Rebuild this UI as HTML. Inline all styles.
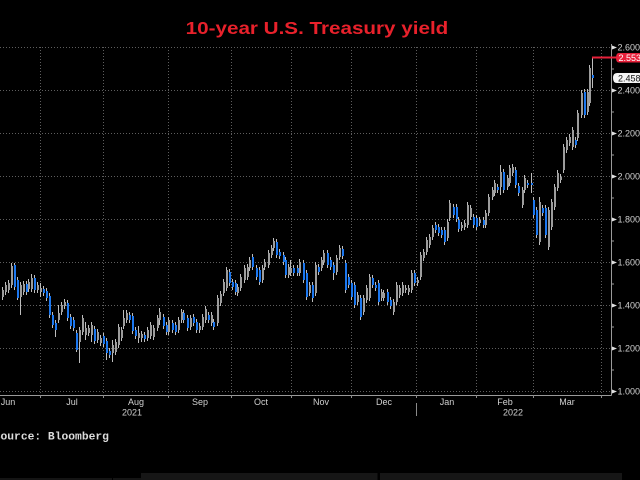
<!DOCTYPE html>
<html><head><meta charset="utf-8">
<style>
html,body{margin:0;padding:0;background:#000;}
svg{display:block;}
.g{fill:#9c9c9c;}
.b{fill:#1c77ee;}
.ax{font-family:"Liberation Sans",sans-serif;font-size:9px;fill:#d0d0d0;}
</style></head><body>
<svg width="640" height="480" viewBox="0 0 640 480" xmlns="http://www.w3.org/2000/svg">
<rect width="640" height="480" fill="#000"/>
<text x="185.7" y="34" font-family="Liberation Sans, sans-serif" font-weight="bold" font-size="17.2" fill="#e8212b" textLength="262.6" lengthAdjust="spacingAndGlyphs">10-year U.S. Treasury yield</text>
<g stroke="#5e5e5e" stroke-width="1" stroke-dasharray="1,2" fill="none">
<path d="M0 47.5H611M0 90.5H611M0 133.5H611M0 176.5H611M0 219.5H611M0 262.5H611M0 305.5H611M0 348.5H611M0 391.5H611"/>
<path d="M40.5 47V395M103.5 47V395M168.5 47V395M231.5 47V395M291.5 47V395M351.5 47V395M416.5 47V395M476.5 47V395M533.5 47V395M601.5 47V395"/>
</g>
<path d="M0 395.5H611.5M611.5 44V395.5" stroke="#9a9a9a" stroke-width="1" fill="none"/>
<path d="M40.5 395V398M103.5 395V398M168.5 395V398M231.5 395V398M291.5 395V398M351.5 395V398M416.5 395V398M476.5 395V398M533.5 395V398M601.5 395V398M416.5 403V416" stroke="#8a8a8a" stroke-width="1"/>
<path d="M611 69H614M611 112H614M611 155H614M611 198H614M611 241H614M611 284H614M611 327H614M611 370H614" stroke="#9a9a9a" stroke-width="1"/>
<g fill="#e0e0e0">
<path d="M612 45.5L617 47.5L612 49.5Z"/><path d="M612 88.5L617 90.5L612 92.5Z"/><path d="M612 131.5L617 133.5L612 135.5Z"/><path d="M612 174.5L617 176.5L612 178.5Z"/><path d="M612 217.5L617 219.5L612 221.5Z"/><path d="M612 260.5L617 262.5L612 264.5Z"/><path d="M612 303.5L617 305.5L612 307.5Z"/><path d="M612 346.5L617 348.5L612 350.5Z"/><path d="M612 389.5L617 391.5L612 393.5Z"/>
</g>
<g class="ax">
<text x="617.5" y="50.5">2.6000</text>
<text x="617.5" y="93.5">2.4000</text>
<text x="617.5" y="136.5">2.2000</text>
<text x="617.5" y="179.5">2.0000</text>
<text x="617.5" y="222.5">1.8000</text>
<text x="617.5" y="265.5">1.6000</text>
<text x="617.5" y="308.5">1.4000</text>
<text x="617.5" y="351.5">1.2000</text>
<text x="617.5" y="394.5">1.0000</text>
</g>
<g class="ax" text-anchor="middle">
<text x="8" y="405">Jun</text><text x="72" y="405">Jul</text><text x="136" y="405">Aug</text><text x="200" y="405">Sep</text><text x="261" y="405">Oct</text><text x="321" y="405">Nov</text><text x="384" y="405">Dec</text><text x="447" y="405">Jan</text><text x="505" y="405">Feb</text><text x="567" y="405">Mar</text>
<text x="132" y="415.5">2021</text><text x="513" y="415.5">2022</text>
</g>
<!-- wicks -->
<path stroke="#bdbdbd" stroke-width="1" fill="none" d="M2.5 287V300M5.5 282V295M8.5 280V293M11.5 263V288M14.5 263V290M17.5 277V300M20.5 282V315M23.5 281V295M26.5 281V295M28.5 279V292M31.5 274V292M34.5 275V293M37.5 282V293M40.5 283V297M43.5 286V296M46.5 288V301M49.5 293V318M52.5 312V328M55.5 320V337M58.5 305V323M61.5 302V315M64.5 299V309M67.5 300V321M70.5 314V329M73.5 317V331M76.5 330V352M79.5 327V363M82.5 315V335M85.5 322V340M88.5 325V336M91.5 322V342M94.5 326V344M97.5 329V343M100.5 335V346M103.5 333V347M106.5 338V360M109.5 348V358M112.5 340V362M115.5 339V355M118.5 324V348M121.5 327V341M123.5 310V329M126.5 310V323M129.5 312V323M132.5 313V334M135.5 327V339M138.5 326V343M141.5 331V342M144.5 332V342M147.5 327V341M150.5 322V339M153.5 325V340M157.5 315V331M159.5 308V325M163.5 314V329M166.5 322V335M168.5 317V335M172.5 320V333M175.5 322V335M178.5 317V333M181.5 309V323M183.5 310V323M187.5 315V331M190.5 315V330M193.5 314V326M196.5 319V333M199.5 323V333M202.5 314V330M205.5 306V323M208.5 312V323M211.5 312V326M213.5 319V330M217.5 295V326M220.5 291V306M223.5 279V296M226.5 267V291M229.5 269V286M232.5 279V290M235.5 280V295M237.5 284V296M240.5 274V291M244.5 265V283M247.5 264V280M249.5 257V271M252.5 254V270M256.5 265V280M259.5 267V285M262.5 265V283M264.5 259V270M268.5 250V268M271.5 245V258M273.5 238V251M276.5 239V258M279.5 249V259M283.5 252V265M285.5 257V278M288.5 264V278M290.5 260V276M293.5 265V276M297.5 265V276M299.5 259V276M303.5 260V283M306.5 270V300M309.5 282V296M312.5 282V302M315.5 262V296M318.5 264V275M321.5 257V271M323.5 250V265M327.5 250V268M330.5 257V270M333.5 262V280M336.5 255V275M339.5 245V260M342.5 246V259M345.5 260V293M348.5 274V288M351.5 280V300M354.5 282V308M357.5 292V305M360.5 295V320M363.5 295V315M366.5 285V303M369.5 274V301M372.5 275V288M375.5 282V291M378.5 280V305M381.5 289V301M383.5 290V301M387.5 289V305M390.5 297V309M393.5 299V315M396.5 282V305M399.5 285V298M402.5 282V296M405.5 285V293M408.5 285V295M411.5 270V293M414.5 270V286M417.5 277V286M420.5 252V280M423.5 249V261M426.5 237V255M429.5 234V248M432.5 225V240M435.5 222V233M438.5 224V236M441.5 227V238M444.5 227V245M447.5 219V241M449.5 200V221M453.5 204V218M456.5 204V222M458.5 217V232M461.5 222V231M464.5 220V230M467.5 202V228M470.5 205V220M473.5 214V228M476.5 215V230M479.5 217V226M483.5 217V228M485.5 210V228M488.5 194V216M492.5 187V200M494.5 180V196M497.5 184V193M500.5 165V195M503.5 169V193M507.5 175V190M509.5 165V186M512.5 164V176M515.5 167V188M518.5 183V196M522.5 187V208M524.5 175V193M527.5 180V188M531.5 173V193M533.5 197V218M536.5 207V238M539.5 197V245M542.5 205V216M545.5 205V238M548.5 207V250M551.5 199V230M554.5 184V210M557.5 170V191M560.5 174V183M563.5 144V173M566.5 137V153M569.5 134V146M572.5 127V150M575.5 137V148M577.5 110V141M581.5 90V118M584.5 89V118M587.5 89V115M589.5 65V106M592.5 58V88"/>
<!-- grey bodies -->
<g class="g">
<rect x="2" y="290" width="2" height="7"/><rect x="5" y="285" width="2" height="7"/><rect x="8" y="283" width="2" height="7"/><rect x="11" y="266" width="2" height="19"/><rect x="20" y="285" width="2" height="12"/><rect x="23" y="284" width="2" height="8"/><rect x="28" y="282" width="2" height="7"/><rect x="31" y="278" width="2" height="11"/><rect x="37" y="285" width="2" height="5"/><rect x="40" y="288" width="2" height="4"/><rect x="58" y="313" width="2" height="7"/><rect x="61" y="305" width="2" height="7"/><rect x="64" y="302" width="2" height="4"/><rect x="79" y="330" width="2" height="12"/><rect x="82" y="318" width="2" height="14"/><rect x="85" y="328" width="2" height="7"/><rect x="88" y="328" width="2" height="5"/><rect x="91" y="325" width="2" height="10"/><rect x="97" y="332" width="2" height="8"/><rect x="100" y="338" width="2" height="5"/><rect x="112" y="345" width="2" height="8"/><rect x="115" y="342" width="2" height="10"/><rect x="118" y="327" width="2" height="18"/><rect x="121" y="330" width="2" height="8"/><rect x="123" y="318" width="2" height="8"/><rect x="126" y="313" width="2" height="7"/><rect x="138" y="333" width="2" height="5"/><rect x="141" y="334" width="2" height="4"/><rect x="147" y="330" width="2" height="8"/><rect x="150" y="325" width="2" height="11"/><rect x="153" y="328" width="2" height="9"/><rect x="157" y="318" width="2" height="10"/><rect x="159" y="312" width="2" height="8"/><rect x="168" y="320" width="2" height="12"/><rect x="178" y="320" width="2" height="10"/><rect x="181" y="312" width="2" height="8"/><rect x="190" y="318" width="2" height="9"/><rect x="199" y="326" width="2" height="4"/><rect x="202" y="317" width="2" height="10"/><rect x="205" y="309" width="2" height="11"/><rect x="211" y="315" width="2" height="8"/><rect x="217" y="298" width="2" height="25"/><rect x="220" y="294" width="2" height="9"/><rect x="223" y="282" width="2" height="11"/><rect x="226" y="270" width="2" height="18"/><rect x="237" y="287" width="2" height="6"/><rect x="240" y="277" width="2" height="11"/><rect x="244" y="268" width="2" height="12"/><rect x="247" y="267" width="2" height="10"/><rect x="249" y="260" width="2" height="8"/><rect x="262" y="268" width="2" height="12"/><rect x="264" y="262" width="2" height="5"/><rect x="268" y="253" width="2" height="12"/><rect x="271" y="248" width="2" height="7"/><rect x="273" y="241" width="2" height="7"/><rect x="288" y="267" width="2" height="8"/><rect x="290" y="268" width="2" height="5"/><rect x="299" y="262" width="2" height="11"/><rect x="309" y="285" width="2" height="8"/><rect x="315" y="265" width="2" height="28"/><rect x="321" y="260" width="2" height="8"/><rect x="323" y="253" width="2" height="9"/><rect x="336" y="258" width="2" height="14"/><rect x="339" y="248" width="2" height="9"/><rect x="357" y="295" width="2" height="7"/><rect x="363" y="298" width="2" height="14"/><rect x="366" y="288" width="2" height="12"/><rect x="369" y="277" width="2" height="21"/><rect x="381" y="292" width="2" height="6"/><rect x="383" y="293" width="2" height="5"/><rect x="393" y="302" width="2" height="10"/><rect x="396" y="285" width="2" height="17"/><rect x="399" y="288" width="2" height="7"/><rect x="402" y="285" width="2" height="8"/><rect x="405" y="288" width="2" height="2"/><rect x="408" y="288" width="2" height="4"/><rect x="411" y="273" width="2" height="17"/><rect x="417" y="280" width="2" height="3"/><rect x="420" y="255" width="2" height="22"/><rect x="423" y="252" width="2" height="6"/><rect x="426" y="240" width="2" height="12"/><rect x="429" y="237" width="2" height="8"/><rect x="432" y="228" width="2" height="9"/><rect x="447" y="222" width="2" height="16"/><rect x="449" y="203" width="2" height="15"/><rect x="461" y="225" width="2" height="3"/><rect x="464" y="223" width="2" height="4"/><rect x="467" y="205" width="2" height="20"/><rect x="470" y="208" width="2" height="9"/><rect x="479" y="220" width="2" height="3"/><rect x="485" y="213" width="2" height="12"/><rect x="488" y="197" width="2" height="16"/><rect x="492" y="190" width="2" height="7"/><rect x="494" y="183" width="2" height="10"/><rect x="500" y="172" width="2" height="15"/><rect x="507" y="178" width="2" height="9"/><rect x="509" y="168" width="2" height="15"/><rect x="512" y="167" width="2" height="6"/><rect x="522" y="190" width="2" height="15"/><rect x="524" y="178" width="2" height="12"/><rect x="539" y="202" width="2" height="40"/><rect x="548" y="210" width="2" height="37"/><rect x="551" y="202" width="2" height="25"/><rect x="554" y="187" width="2" height="20"/><rect x="557" y="173" width="2" height="15"/><rect x="560" y="177" width="2" height="3"/><rect x="563" y="147" width="2" height="23"/><rect x="566" y="140" width="2" height="10"/><rect x="569" y="137" width="2" height="6"/><rect x="572" y="130" width="2" height="17"/><rect x="577" y="113" width="2" height="25"/><rect x="581" y="93" width="2" height="22"/><rect x="587" y="92" width="2" height="20"/><rect x="589" y="68" width="2" height="35"/>
</g>
<!-- blue bodies -->
<g class="b">
<rect x="14" y="265" width="2" height="22"/><rect x="17" y="280" width="2" height="18"/><rect x="26" y="284" width="2" height="8"/><rect x="34" y="278" width="2" height="12"/><rect x="43" y="289" width="2" height="4"/><rect x="46" y="291" width="2" height="7"/><rect x="49" y="296" width="2" height="19"/><rect x="52" y="315" width="2" height="10"/><rect x="55" y="323" width="2" height="7"/><rect x="67" y="303" width="2" height="15"/><rect x="70" y="317" width="2" height="9"/><rect x="73" y="320" width="2" height="8"/><rect x="76" y="333" width="2" height="17"/><rect x="94" y="329" width="2" height="12"/><rect x="103" y="336" width="2" height="8"/><rect x="106" y="341" width="2" height="12"/><rect x="109" y="351" width="2" height="4"/><rect x="129" y="315" width="2" height="5"/><rect x="132" y="316" width="2" height="15"/><rect x="135" y="330" width="2" height="6"/><rect x="144" y="335" width="2" height="4"/><rect x="163" y="317" width="2" height="9"/><rect x="166" y="325" width="2" height="7"/><rect x="172" y="323" width="2" height="7"/><rect x="175" y="325" width="2" height="7"/><rect x="183" y="313" width="2" height="7"/><rect x="187" y="318" width="2" height="10"/><rect x="193" y="317" width="2" height="6"/><rect x="196" y="322" width="2" height="8"/><rect x="208" y="315" width="2" height="5"/><rect x="213" y="322" width="2" height="5"/><rect x="229" y="272" width="2" height="11"/><rect x="232" y="282" width="2" height="5"/><rect x="235" y="283" width="2" height="9"/><rect x="252" y="257" width="2" height="10"/><rect x="256" y="268" width="2" height="9"/><rect x="259" y="270" width="2" height="12"/><rect x="276" y="242" width="2" height="13"/><rect x="279" y="252" width="2" height="4"/><rect x="283" y="255" width="2" height="7"/><rect x="285" y="260" width="2" height="15"/><rect x="293" y="268" width="2" height="5"/><rect x="297" y="268" width="2" height="5"/><rect x="303" y="263" width="2" height="17"/><rect x="306" y="273" width="2" height="24"/><rect x="312" y="285" width="2" height="13"/><rect x="318" y="267" width="2" height="5"/><rect x="327" y="253" width="2" height="12"/><rect x="330" y="260" width="2" height="7"/><rect x="333" y="265" width="2" height="8"/><rect x="342" y="249" width="2" height="7"/><rect x="345" y="263" width="2" height="27"/><rect x="348" y="277" width="2" height="8"/><rect x="351" y="283" width="2" height="14"/><rect x="354" y="285" width="2" height="20"/><rect x="360" y="298" width="2" height="19"/><rect x="372" y="278" width="2" height="7"/><rect x="375" y="285" width="2" height="3"/><rect x="378" y="283" width="2" height="19"/><rect x="387" y="292" width="2" height="10"/><rect x="390" y="300" width="2" height="6"/><rect x="414" y="273" width="2" height="10"/><rect x="435" y="225" width="2" height="5"/><rect x="438" y="227" width="2" height="6"/><rect x="441" y="230" width="2" height="5"/><rect x="444" y="230" width="2" height="12"/><rect x="453" y="207" width="2" height="8"/><rect x="456" y="207" width="2" height="12"/><rect x="458" y="220" width="2" height="9"/><rect x="473" y="217" width="2" height="8"/><rect x="476" y="218" width="2" height="9"/><rect x="483" y="220" width="2" height="5"/><rect x="497" y="187" width="2" height="3"/><rect x="503" y="172" width="2" height="18"/><rect x="515" y="170" width="2" height="15"/><rect x="518" y="186" width="2" height="7"/><rect x="527" y="183" width="2" height="2"/><rect x="531" y="183" width="2" height="2"/><rect x="533" y="200" width="2" height="15"/><rect x="536" y="210" width="2" height="25"/><rect x="542" y="208" width="2" height="5"/><rect x="545" y="208" width="2" height="27"/><rect x="575" y="140" width="2" height="5"/><rect x="584" y="92" width="2" height="23"/><rect x="592" y="75" width="2" height="3"/>
</g>
<!-- last price marker -->
<path d="M592 57.5H617" stroke="#e8203a" stroke-width="2"/>
<path d="M619 53H640V62.5H619Q616 62.5 616 57.75Q616 53 619 53Z" fill="#e8203a"/>
<text x="618.5" y="61" font-family="Liberation Sans, sans-serif" font-size="9" fill="#fff">2.5530</text>
<path d="M617 73H640V83H617Q613 83 613 78Q613 73 617 73Z" fill="#f4f4f4"/>
<text x="618" y="81.5" font-family="Liberation Sans, sans-serif" font-size="9" fill="#111">2.4585</text>
<!-- source -->
<text x="-6.3" y="439.3" font-family="Liberation Mono, monospace" font-weight="bold" font-size="11.3" fill="#dcdcdc">Source: Bloomberg</text>
<!-- bottom strips -->
<rect x="141" y="473" width="236.5" height="7" fill="#161616"/>
<rect x="380" y="473" width="242" height="7" fill="#161616"/>
<rect x="0" y="478" width="112" height="2" fill="#141414"/>
<rect x="113" y="478" width="28" height="2" fill="#141414"/>
</svg>
</body></html>
